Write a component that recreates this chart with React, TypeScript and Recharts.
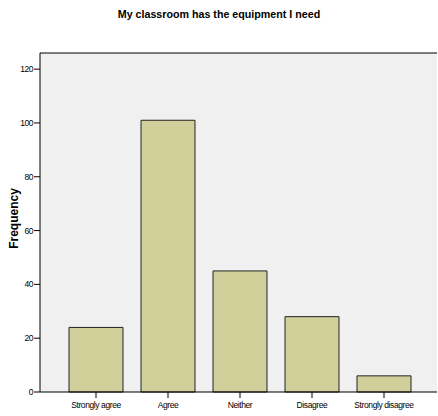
import React from "react";
import {
  Bar,
  BarChart,
  CartesianGrid,
  ReferenceLine,
  XAxis,
  YAxis,
} from "recharts";

const categories = ["Strongly agree", "Agree", "Neither", "Disagree", "Strongly disagree"];
const frequency = [24, 101, 45, 28, 6];
const yTicks = [0, 20, 40, 60, 80, 100, 120];

const data = categories.map((c, i) => ({ name: c, value: frequency[i] }));

const FONT = "'Liberation Sans', Arial, sans-serif";

// SPSS uses a condensed face; tighten spacing to get close
function XTick(props: any) {
  const { x, y, payload } = props;
  return (
    <text
      x={x}
      y={y}
      dy="0.71em"
      textAnchor="middle"
      fontSize={8.5}
      letterSpacing={-0.4}
      fill="#000"
      fontFamily={FONT}
    >
      {payload.value}
    </text>
  );
}

function YTick(props: any) {
  const { x, y, payload } = props;
  return (
    <text
      x={x}
      y={y}
      dy="0.355em"
      textAnchor="end"
      fontSize={8.5}
      letterSpacing={-0.5}
      fill="#000"
      fontFamily={FONT}
    >
      {payload.value}
    </text>
  );
}

function FreqLabel(props: any) {
  const { viewBox } = props;
  const cy = viewBox.y + viewBox.height / 2 - 4;
  const cx = 18;
  return (
    <text
      x={cx}
      y={cy}
      transform={`rotate(-90, ${cx}, ${cy})`}
      textAnchor="middle"
      fontSize={12}
      fontWeight="bold"
      fill="#000"
      fontFamily={FONT}
    >
      Frequency
    </text>
  );
}

export default function App() {
  return (
    <div
      style={{
        position: "absolute",
        left: 0,
        top: 0,
        width: 438,
        height: 416,
        background: "#fff",
        fontFamily: FONT,
      }}
    >
      <div
        style={{
          position: "absolute",
          top: 8,
          left: 0,
          width: 438,
          textAlign: "center",
          fontFamily: FONT,
          fontWeight: "bold",
          fontSize: 10.7,
          lineHeight: "13px",
          color: "#000",
        }}
      >
        My classroom has the equipment I need
      </div>
      <BarChart
        width={438}
        height={416}
        data={data}
        margin={{ top: 53, right: 1, bottom: 4, left: 0 }}
        barCategoryGap="12.5%"
      >
        <CartesianGrid fill="#f0f0f0" horizontal={false} vertical={false} />
        <XAxis
          dataKey="name"
          height={20}
          padding={{ left: 20, right: 17 }}
          tick={<XTick />}
          tickLine={{ stroke: "#000" }}
          tickSize={6}
          tickMargin={4}
          axisLine={{ stroke: "#000" }}
          interval={0}
        />
        <YAxis
          width={40}
          domain={[0, 126]}
          ticks={yTicks}
          tick={<YTick />}
          tickLine={{ stroke: "#000" }}
          tickSize={6}
          tickMargin={1}
          axisLine={{ stroke: "#000" }}
          label={<FreqLabel />}
        />
        <ReferenceLine y={126} stroke="#000" />
        <Bar
          dataKey="value"
          fill="#d2d09a"
          stroke="#222"
          strokeWidth={1}
          isAnimationActive={false}
        />
      </BarChart>
    </div>
  );
}
